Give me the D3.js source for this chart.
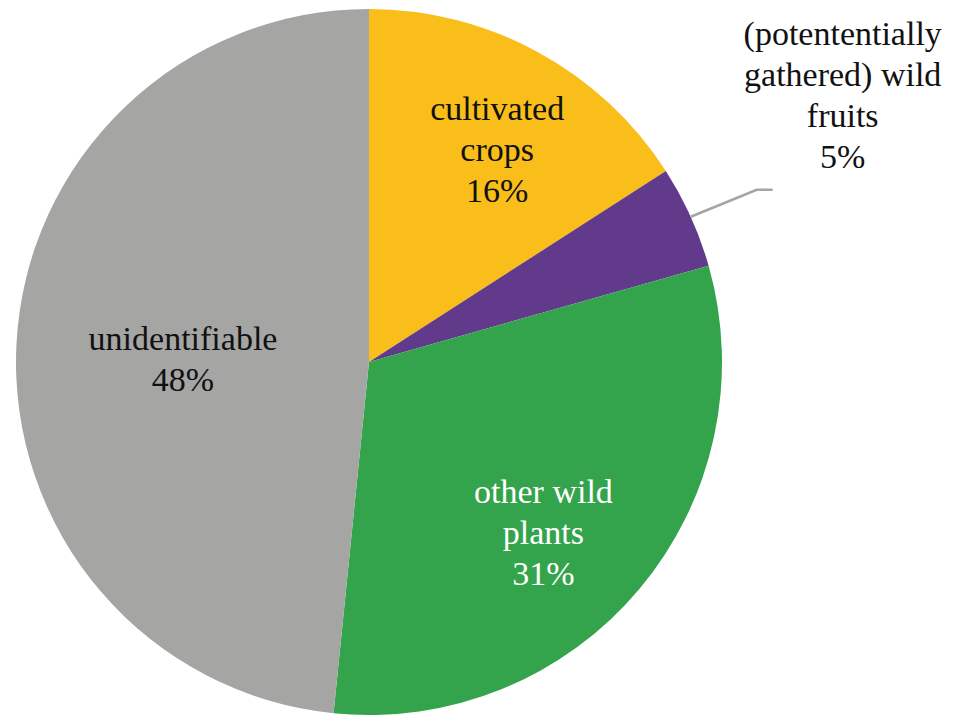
<!DOCTYPE html>
<html>
<head>
<meta charset="utf-8">
<script src="https://cdn.jsdelivr.net/npm/d3@7"></script>
</head>
<body style="margin:0">
<svg id="chart" width="963" height="715"></svg>
<script>
// ---- data ----
const categories = ["cultivated crops", "(potententially gathered) wild fruits", "other wild plants", "unidentifiable"];
const labelLines = [
  ["cultivated", "crops"],
  ["(potententially", "gathered) wild", "fruits"],
  ["other wild", "plants"],
  ["unidentifiable"]
];
const values = [15.9, 4.7, 31.0, 48.4];
const percentLabels = ["16%", "5%", "31%", "48%"];

// ---- styles ----
const colors = ["#F9BE19", "#623A8C", "#34A44C", "#A5A5A4"];
const textColors = ["#111", "#111", "#fff", "#111"];
const FONT = "'Liberation Serif'";

const cx = 369, cy = 362, R = 353;
const fontSize = 34, lineH = 41;

const svg = d3.select("#chart");
const g = svg.append("g").attr("transform", `translate(${cx},${cy})`);

const data = categories.map((c, i) => ({ cat: c, value: values[i], i }));
const pie = d3.pie().sort(null).value(d => d.value).startAngle(0).endAngle(2 * Math.PI);
const arcs = pie(data);
const arc = d3.arc().innerRadius(0).outerRadius(R);

g.selectAll("path.slice")
  .data(arcs)
  .join("path")
  .attr("class", "slice")
  .attr("d", arc)
  .attr("fill", d => colors[d.data.i]);

// inside label placement: polar radius & angle offset (degrees) from slice middle
const inside = {
  0: { r: 248, da: 2.5 },
  2: { r: 244, da: 4.4 },
  3: { r: 186, da: -2.0 }
};

function polar(r, a) { return [r * Math.sin(a), -r * Math.cos(a)]; }

function drawLabel(x, y, i) {
  const lines = labelLines[i].concat([percentLabels[i]]);
  const n = lines.length;
  lines.forEach((ln, k) => {
    svg.append("text")
      .attr("x", cx + x)
      .attr("y", cy + y + (k - (n - 1) / 2) * lineH + fontSize * 0.33)
      .style("font-family", FONT)
      .attr("font-size", fontSize)
      .style("text-anchor", "middle")
      .style("fill", textColors[i])
      .text(ln);
  });
}

arcs.forEach(a => {
  const i = a.data.i;
  const mid = (a.startAngle + a.endAngle) / 2;
  if (inside[i]) {
    const p = polar(inside[i].r, mid + inside[i].da * Math.PI / 180);
    drawLabel(p[0], p[1], i);
  } else {
    const p0 = polar(R, mid);
    const elbow = [p0[0] + 66, p0[1] - 27];
    const end = [elbow[0] + 16, elbow[1]];
    g.append("polyline")
      .attr("points", [p0, elbow, end].map(p => p.join(",")).join(" "))
      .attr("fill", "none")
      .attr("stroke", "#A5A5A5")
      .attr("stroke-width", 2.5);
    const lines = labelLines[i].length + 1;
    const blockCenterY = elbow[1] - 33 - (lines - 1) / 2 * lineH;
    drawLabel(end[0] + 70, blockCenterY, i);
  }
});
</script>
</body>
</html>
